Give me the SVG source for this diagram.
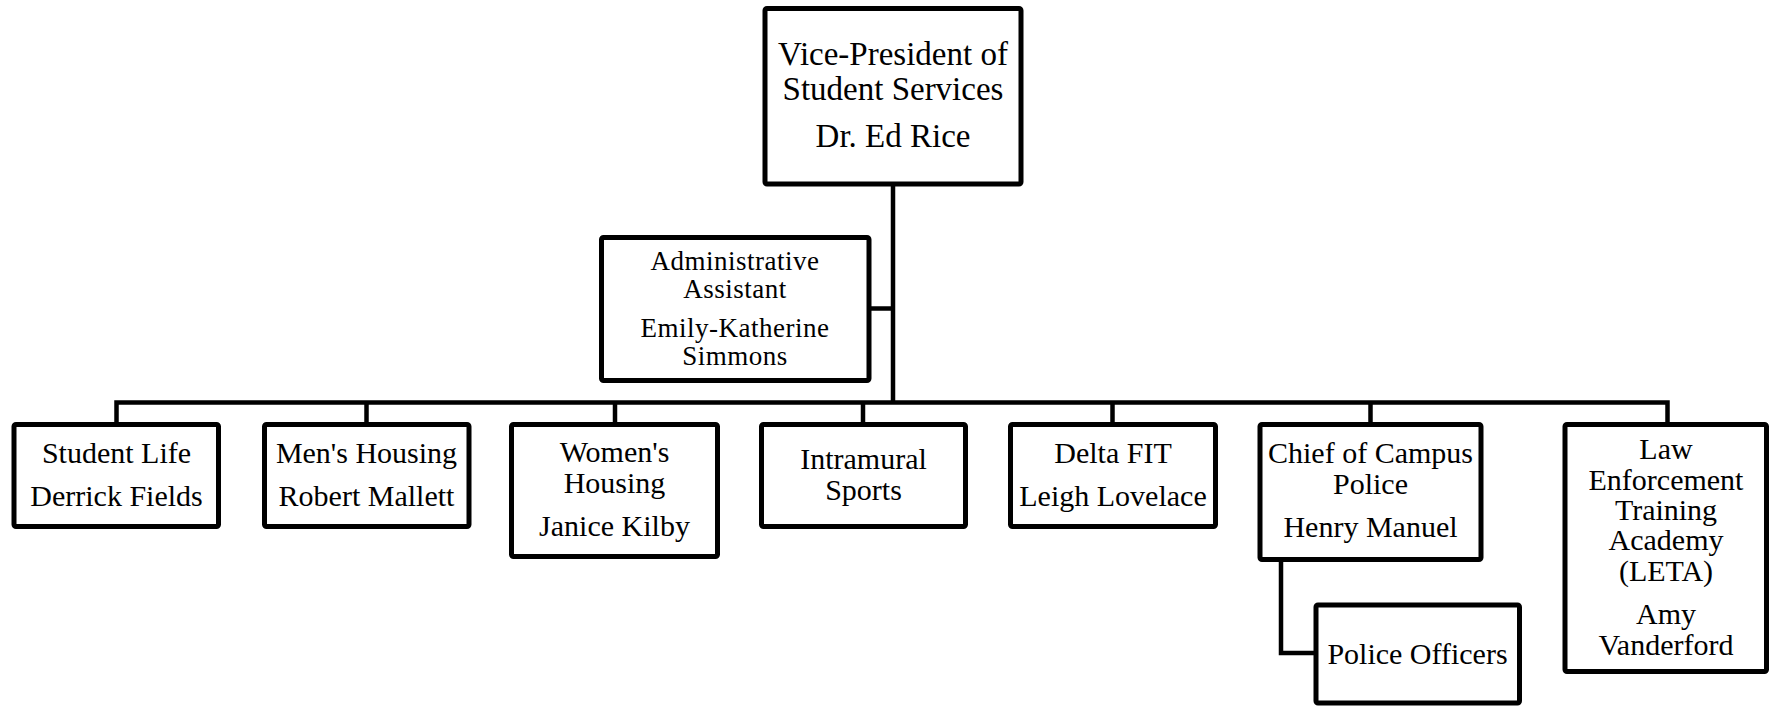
<svg xmlns="http://www.w3.org/2000/svg" width="1771" height="708" viewBox="0 0 1771 708">
<style>
.box{fill:#fff;stroke:#000;stroke-width:5;stroke-linejoin:round}
.ln{fill:none;stroke:#000;stroke-width:4.5;stroke-linejoin:miter}
text{font-family:"Liberation Serif","Times New Roman",serif;fill:#000;text-anchor:middle}
.t30{font-size:30px}
.t33{font-size:33px}
.t27{font-size:27px;letter-spacing:0.5px}
</style>
<rect width="1771" height="708" fill="#fff"/>
<g id="connectors">
<path class="ln" d="M893 184V402.5"/>
<path class="ln" d="M869 308.5H893"/>
<path class="ln" d="M116.5 424.5V402.5H1667.5V424.5"/>
<path class="ln" d="M366.5 402.5V424.5"/>
<path class="ln" d="M615 402.5V424.5"/>
<path class="ln" d="M863 402.5V424.5"/>
<path class="ln" d="M1112.5 402.5V424.5"/>
<path class="ln" d="M1370.5 402.5V424.5"/>
<path class="ln" d="M1281 559.5V653H1316"/>
</g>
<g id="vp">
<rect class="box" x="765" y="8.5" width="256" height="175.5" rx="2"/>
<text class="t33" x="893" y="65">Vice-President of</text>
<text class="t33" x="893" y="99.5">Student Services</text>
<text class="t33" x="893" y="147">Dr. Ed Rice</text>
</g>
<g id="admin">
<rect class="box" x="601.5" y="237.5" width="267.5" height="143" rx="2"/>
<text class="t27" x="735" y="270">Administrative</text>
<text class="t27" x="735" y="297.5">Assistant</text>
<text class="t27" x="735" y="337">Emily-Katherine</text>
<text class="t27" x="735" y="364.5">Simmons</text>
</g>
<g id="studentlife">
<rect class="box" x="14" y="424.5" width="204.5" height="102" rx="2"/>
<text class="t30" x="116.5" y="462.5">Student Life</text>
<text class="t30" x="116.5" y="505.5">Derrick Fields</text>
</g>
<g id="menshousing">
<rect class="box" x="264.5" y="424.5" width="204.5" height="102" rx="2"/>
<text class="t30" x="366.5" y="462.5">Men's Housing</text>
<text class="t30" x="366.5" y="505.5">Robert Mallett</text>
</g>
<g id="womenshousing">
<rect class="box" x="511.5" y="424.5" width="206" height="132" rx="2"/>
<text class="t30" x="614.5" y="461.5">Women's</text>
<text class="t30" x="614.5" y="492.5">Housing</text>
<text class="t30" x="614.5" y="535.5">Janice Kilby</text>
</g>
<g id="intramural">
<rect class="box" x="761.5" y="424.5" width="204" height="102" rx="2"/>
<text class="t30" x="863.5" y="469">Intramural</text>
<text class="t30" x="863.5" y="499.5">Sports</text>
</g>
<g id="deltafit">
<rect class="box" x="1010.5" y="424.5" width="205" height="102" rx="2"/>
<text class="t30" x="1113" y="462.5">Delta FIT</text>
<text class="t30" x="1113" y="505.5">Leigh Lovelace</text>
</g>
<g id="chief">
<rect class="box" x="1260" y="424.5" width="221" height="135" rx="2"/>
<text class="t30" x="1370.5" y="463">Chief of Campus</text>
<text class="t30" x="1370.5" y="494">Police</text>
<text class="t30" x="1370.5" y="536.5">Henry Manuel</text>
</g>
<g id="police">
<rect class="box" x="1316" y="605" width="203.5" height="98" rx="2"/>
<text class="t30" x="1417.5" y="663.5">Police Officers</text>
</g>
<g id="leta">
<rect class="box" x="1565" y="424.5" width="201.5" height="247" rx="2"/>
<text class="t30" x="1666" y="459">Law</text>
<text class="t30" x="1666" y="489.5">Enforcement</text>
<text class="t30" x="1666" y="519.5">Training</text>
<text class="t30" x="1666" y="550">Academy</text>
<text class="t30" x="1666" y="581">(LETA)</text>
<text class="t30" x="1666" y="623.5">Amy</text>
<text class="t30" x="1666" y="654.5">Vanderford</text>
</g>
</svg>
